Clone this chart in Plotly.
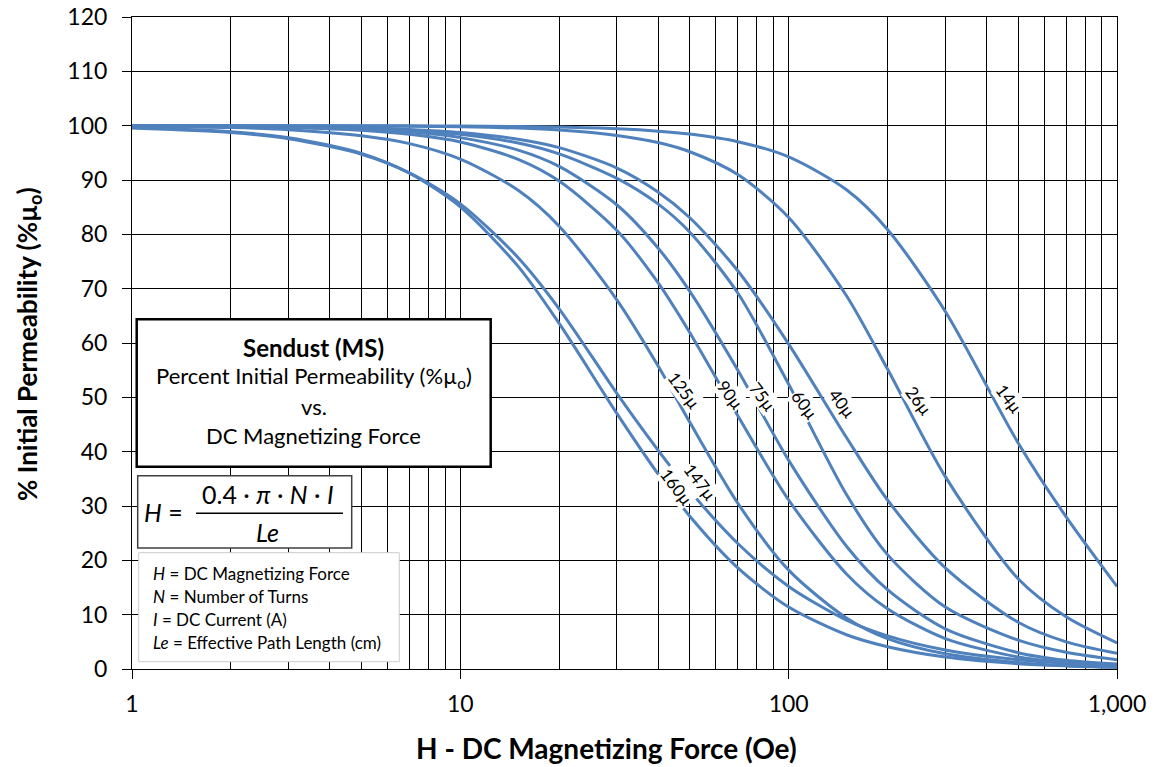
import numpy as np
import plotly.graph_objects as go

# ---- data ----
H_VALUES = [1, 2, 3, 5, 7, 10, 15, 20, 30, 40, 50, 70, 100, 150, 200, 300, 500, 700, 1000]

PERM_14 = [100.0, 100.0, 99.99, 99.98, 99.97, 99.93, 99.85, 99.74, 99.42, 98.99, 98.45, 97.05, 94.25, 88.2, 80.9, 65.8, 41.6, 28.0, 15.2]
PERM_26 = [100.0, 99.99, 99.98, 99.95, 99.9, 99.8, 99.55, 99.2, 98.2, 96.9, 95.2, 91.0, 83.1, 68.7, 55.2, 35.4, 16.6, 9.6, 4.8]
PERM_40 = [99.98, 99.92, 99.84, 99.61, 99.31, 98.74, 97.5, 95.95, 92.2, 87.8, 83.05, 73.3, 59.8, 42.6, 31.1, 18.6, 8.6, 5.0, 2.9]
PERM_60 = [99.97, 99.9, 99.8, 99.52, 99.13, 98.4, 96.8, 94.8, 90.3, 85.6, 80.4, 69.2, 52.4, 32.1, 21.05, 11.4, 5.3, 3.07, 1.7]
PERM_75 = [99.97, 99.89, 99.76, 99.38, 98.86, 97.8, 95.5, 92.5, 85.4, 77.5, 69.5, 55.0, 38.4, 22.6, 14.6, 7.4, 3.0, 1.6, 0.9]
PERM_90 = [99.96, 99.84, 99.66, 99.14, 98.4, 97.0, 93.8, 89.8, 80.7, 71.1, 61.9, 46.6, 31.1, 17.5, 11.1, 5.6, 2.2, 1.2, 0.6]
PERM_125 = [99.9, 99.64, 99.26, 98.15, 96.7, 93.85, 88.1, 81.5, 67.9, 55.8, 45.4, 30.5, 18.2, 9.4, 5.6, 2.8, 1.17, 0.63, 0.33]
PERM_147 = [99.58, 98.74, 97.6, 94.75, 91.3, 85.6, 75.7, 66.3, 50.7, 40.3, 32.8, 23.1, 15.2, 9.0, 6.1, 3.5, 1.7, 1.05, 0.63]
PERM_160 = [99.65, 98.87, 97.8, 94.9, 91.25, 85.05, 74.1, 63.6, 47.0, 35.9, 28.1, 18.6, 11.4, 6.3, 4.1, 2.2, 0.97, 0.57, 0.32]

SERIES_NAMES = ["14µ", "26µ", "40µ", "60µ", "75µ", "90µ", "125µ", "147µ", "160µ"]
SERIES_VALUES = [PERM_14, PERM_26, PERM_40, PERM_60, PERM_75, PERM_90, PERM_125, PERM_147, PERM_160]

# curve label anchor points (H, %µ)
LABEL_H = [469, 249.5, 145.8, 111.5, 83.2, 66.7, 48.1, 54.0, 45.4]
LABEL_P = [49.8, 49.5, 48.9, 48.6, 50.1, 50.4, 51.3, 34.4, 33.5]

X_TICKS = [1, 10, 100, 1000]
X_TICK_TEXT = ["1", "10", "100", "1,000"]
X_MINOR = [m * d for d in (1, 10, 100) for m in range(2, 10)]

LINE_COLOR = "#4F81BD"
FONT = "Lato, Carlito, 'Open Sans', sans-serif"

# the page body adds an 8px offset; figure is sized so the plot lands on the reference pixels
PAGE_OFF = 8
PLOT_L, PLOT_R, PLOT_T, PLOT_B = 132, 1117, 17, 669

fig = go.Figure()
for name, vals in zip(SERIES_NAMES, SERIES_VALUES):
    fig.add_trace(go.Scatter(
        x=H_VALUES, y=vals, mode="lines", name=name,
        line=dict(color=LINE_COLOR, width=3, shape="spline", smoothing=0.8),
        showlegend=False, hoverinfo="skip",
    ))

annotations = []
for name, h, p in zip(SERIES_NAMES, LABEL_H, LABEL_P):
    annotations.append(dict(
        x=np.log10(h), y=p, xref="x", yref="y", text=name, showarrow=False,
        xanchor="center", yanchor="middle",
        textangle=53, font=dict(size=17, color="black", family=FONT),
        bgcolor="white", borderpad=0,
    ))


def paper_x(px):
    return (px - PLOT_L) / float(PLOT_R - PLOT_L)


def paper_y(py):
    return (PLOT_B - py) / float(PLOT_B - PLOT_T)


def note(px, py, text, size, anchor="center", angle=0):
    return dict(x=paper_x(px), y=paper_y(py), xref="paper", yref="paper", showarrow=False,
                xanchor=anchor, yanchor="middle", text=text, textangle=angle,
                font=dict(size=size, family=FONT, color="black"))


# title box texts
box_cx = 313.7
annotations += [
    note(box_cx, 347, "<b>Sendust (MS)</b>", 24),
    note(box_cx, 377, "Percent Initial Permeability (%µ<sub>o</sub>)", 22),
    note(box_cx, 406, "vs.", 22),
    note(box_cx, 435, "DC Magnetizing Force", 22),
]

# formula
annotations += [
    note(142, 512, "<i>H</i> =", 25, anchor="left"),
    note(268, 494, "0.4 · <i>π</i> · <i>N</i> · <i>I</i>", 25),
    note(267, 532, "<i>Le</i>", 25),
]

# definitions
DEF_LINES = ["<i>H</i> = DC Magnetizing Force", "<i>N</i> = Number of Turns",
             "<i>I</i> = DC Current (A)", "<i>Le</i> = Effective Path Length (cm)"]
for i, t in enumerate(DEF_LINES):
    annotations.append(note(151, 573.3 + i * 23, t, 17, anchor="left"))

# axis titles
annotations += [
    note(606, 748, "<b>H - DC Magnetizing Force (Oe)</b>", 28),
    note(28, 344, "<b>% Initial Permeability (%µ<sub>o</sub>)</b>", 26, angle=-90),
]

shapes = [
    dict(type="rect", xref="paper", yref="paper", x0=paper_x(136.7), x1=paper_x(490.7),
         y0=paper_y(466.7), y1=paper_y(319.3), line=dict(color="black", width=2.5),
         fillcolor="white", layer="above"),
    dict(type="rect", xref="paper", yref="paper", x0=paper_x(137.7), x1=paper_x(351.7),
         y0=paper_y(548), y1=paper_y(475.7), line=dict(color="#404040", width=1.5),
         fillcolor="white", layer="above"),
    dict(type="line", xref="paper", yref="paper", x0=paper_x(196), x1=paper_x(343),
         y0=paper_y(513.3), y1=paper_y(513.3), line=dict(color="black", width=1.5), layer="above"),
    dict(type="rect", xref="paper", yref="paper", x0=paper_x(138.7), x1=paper_x(399.3),
         y0=paper_y(661.7), y1=paper_y(552.7), line=dict(color="#cccccc", width=1),
         fillcolor="white", layer="above"),
]

W, H = 1157 - PAGE_OFF, 767 - PAGE_OFF
fig.update_layout(
    width=W, height=H,
    margin=dict(l=PLOT_L - PAGE_OFF, r=W - (PLOT_R - PAGE_OFF), t=PLOT_T - PAGE_OFF,
                b=H - (PLOT_B - PAGE_OFF), pad=0, autoexpand=False),
    paper_bgcolor="white", plot_bgcolor="white",
    font=dict(family=FONT, color="black"),
    annotations=annotations, shapes=shapes,
    xaxis=dict(
        type="log", range=[0, 3], tickmode="array", tickvals=X_TICKS, ticktext=X_TICK_TEXT,
        ticks="outside", ticklen=9, tickcolor="black", tickwidth=1, automargin=False,
        showline=True, linecolor="black", linewidth=1, mirror=True,
        showgrid=True, gridcolor="black", gridwidth=1, zeroline=False,
        tickfont=dict(size=23, family=FONT, color="black"), ticklabelstandoff=5,
        ticklabeloverflow="allow",
        minor=dict(tickmode="array", tickvals=X_MINOR, showgrid=True, gridcolor="black",
                   gridwidth=1, ticks=""),
    ),
    yaxis=dict(
        range=[0, 120], tick0=0, dtick=10, automargin=False,
        ticks="outside", ticklen=9, tickcolor="black", tickwidth=1,
        showline=True, linecolor="black", linewidth=1, mirror=True,
        showgrid=True, gridcolor="black", gridwidth=1, zeroline=False,
        tickfont=dict(size=23, family=FONT, color="black"), ticklabelstandoff=10,
        ticklabeloverflow="allow",
    ),
)

fig.write_html("out.html")
